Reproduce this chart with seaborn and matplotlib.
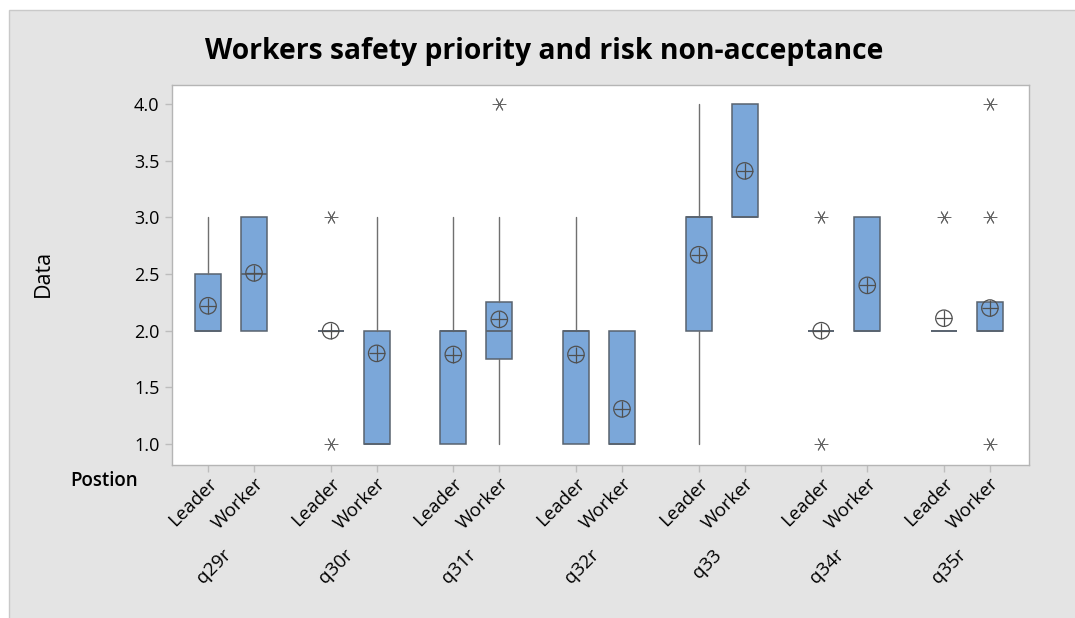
import matplotlib
matplotlib.use("Agg")
import matplotlib.pyplot as plt
import seaborn as sns
import pandas as pd
from matplotlib.patches import Rectangle

groups = ["q29r", "q30r", "q31r", "q32r", "q33", "q34r", "q35r"]
positions_lbl = ["Leader", "Worker"]

# box statistics per (group, position), in order L,W,L,W,...
q1 =     [2.0, 2.0, 2.0, 1.0, 1.0, 1.75, 1.0, 1.0, 2.0, 3.0, 2.0, 2.0, 2.0, 2.0]
median = [2.0, 2.5, 2.0, 1.0, 2.0, 2.0, 2.0, 1.0, 3.0, 3.0, 2.0, 2.0, 2.0, 2.0]
q3 =     [2.5, 3.0, 2.0, 2.0, 2.0, 2.25, 2.0, 2.0, 3.0, 4.0, 2.0, 3.0, 2.0, 2.25]
wlo =    [2.0, 2.0, 2.0, 1.0, 1.0, 1.0, 1.0, 1.0, 1.0, 3.0, 2.0, 2.0, 2.0, 2.0]
whi =    [3.0, 3.0, 2.0, 3.0, 3.0, 3.0, 3.0, 2.0, 4.0, 4.0, 2.0, 3.0, 2.0, 2.25]
means =  [2.22, 2.51, 2.0, 1.80, 1.79, 2.10, 1.79, 1.31, 2.67, 3.41, 2.0, 2.40, 2.11, 2.20]
outliers = [[], [], [1.0, 3.0], [], [], [4.0], [], [], [], [], [1.0, 3.0], [], [3.0], [1.0, 3.0, 4.0]]

sns.set_theme(style="white")
plt.rcParams["font.family"] = ["Open Sans", "DejaVu Sans"]
plt.rcParams["text.color"] = "black"
plt.rcParams["axes.labelcolor"] = "black"
plt.rcParams["xtick.color"] = "black"
plt.rcParams["ytick.color"] = "black"

W, H = 1075, 618
fig = plt.figure(figsize=(W / 100, H / 100), dpi=100, facecolor="white")
fig.patches.append(Rectangle((9 / W, -0.01), 1.02 - 9 / W, 1.01 - 10 / H, transform=fig.transFigure,
                             facecolor="#e4e4e4", edgecolor="#c9c9c9", lw=1.0, zorder=-10))

ax = fig.add_axes([172 / W, 1 - 465 / H, (1029 - 172) / W, (465 - 85) / H])
ax.set_facecolor("white")

xs = []
for gi in range(len(groups)):
    for pi in range(len(positions_lbl)):
        xs.append(gi * 8 + pi * 3)

stats = []
for i in range(len(xs)):
    stats.append(dict(q1=q1[i], med=median[i], q3=q3[i], whislo=wlo[i], whishi=whi[i],
                      fliers=[], label=""))

ax.bxp(stats, positions=xs, widths=1.7, patch_artist=True, showfliers=False, showcaps=False,
       boxprops=dict(facecolor="#7ba7d9", edgecolor="#59636f", linewidth=1.1),
       medianprops=dict(color="#59636f", linewidth=1.3),
       whiskerprops=dict(color="#707070", linewidth=1.0))

mean_df = pd.DataFrame({"x": xs, "mean": means})
sns.scatterplot(data=mean_df, x="x", y="mean", ax=ax, marker="o", s=140,
                facecolors="none", edgecolor="#505050", linewidth=0.9, zorder=5)
sns.scatterplot(data=mean_df, x="x", y="mean", ax=ax, marker="+", s=140,
                color="#505050", linewidth=0.9, zorder=5)

ox, oy = [], []
for x, outs in zip(xs, outliers):
    for v in outs:
        ox.append(x)
        oy.append(v)
out_df = pd.DataFrame({"x": ox, "v": oy})
sns.scatterplot(data=out_df, x="x", y="v", ax=ax, marker=(6, 2, 90), s=85,
                color="#666666", linewidth=0.7, zorder=5)

ax.set_xlim(-2.35, 53.55)
ax.set_ylim(0.815, 4.168)
yt = [1.0, 1.5, 2.0, 2.5, 3.0, 3.5, 4.0]
ax.set_yticks(yt)
ax.set_yticklabels([f"{v:.1f}" for v in yt], fontsize=13)
ax.set_xticks(xs)
ax.set_xticklabels([positions_lbl[i % 2] for i in range(len(xs))], rotation=45,
                   ha="right", va="top", rotation_mode="anchor", fontsize=13.5)
ax.tick_params(axis="both", which="both", length=5, width=1, color="#bdbdbd",
               bottom=True, left=True)
ax.tick_params(axis="y", pad=4)
ax.tick_params(axis="x", pad=2)
for s in ax.spines.values():
    s.set_color("#b5b5b5")
    s.set_linewidth(1.0)
ax.set_xlabel("")
ax.set_ylabel("Data", fontsize=15.5)
ax.yaxis.set_label_coords((54 - 172) / 857, 0.503)

for gi, g in enumerate(groups):
    ax.text(gi * 8 + 1.3, -0.23, g, transform=ax.get_xaxis_transform(), rotation=45,
            ha="right", va="center", rotation_mode="anchor", fontsize=13.5)

fig.text(104 / W, 1 - 481 / H, "Postion", ha="center", va="center", fontsize=13.5,
         fontweight="semibold")
fig.text(544 / W, 1 - 52 / H, "Workers safety priority and risk non-acceptance",
         ha="center", va="center", fontsize=20.3, fontweight="bold")

fig.savefig("out.png", dpi=100, facecolor=fig.get_facecolor())
